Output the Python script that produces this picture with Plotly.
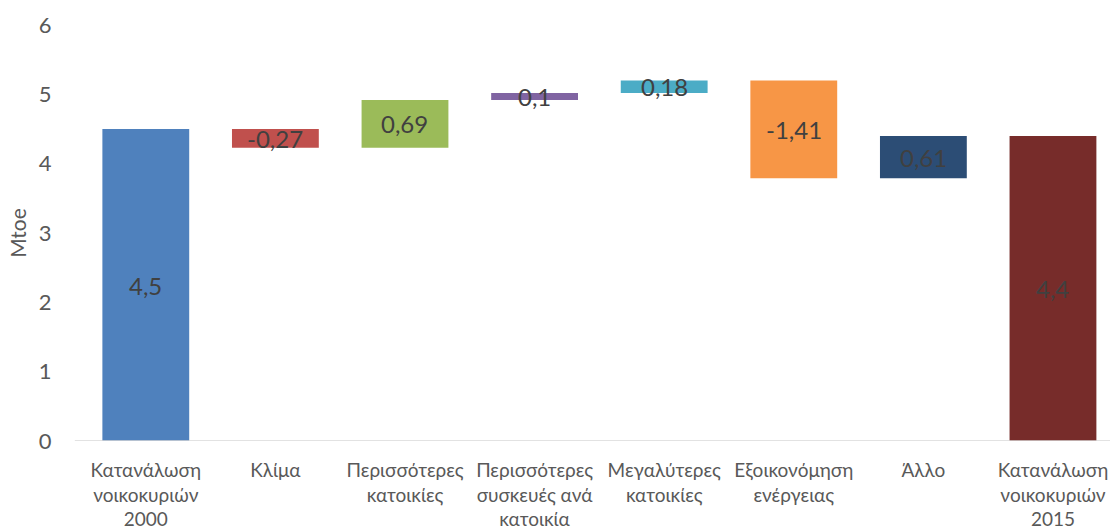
import plotly.graph_objects as go

categories = [
    "Κατανάλωση<br>νοικοκυριών<br>2000",
    "Κλίμα",
    "Περισσότερες<br>κατοικίες",
    "Περισσότερες<br>συσκευές ανά<br>κατοικία",
    "Μεγαλύτερες<br>κατοικίες",
    "Εξοικονόμηση<br>ενέργειας",
    "Άλλο",
    "Κατανάλωση<br>νοικοκυριών<br>2015",
]
start_value = 4.5
changes = [-0.27, 0.69, 0.1, 0.18, -1.41, 0.61]
end_value = 4.4
colors = ["#4F81BD", "#C0504D", "#9BBB59", "#8064A2", "#4BACC6",
          "#F79646", "#2C4D75", "#772C2A"]
y_ticks = [0, 1, 2, 3, 4, 5, 6]

# build floating bars
bases = [0.0]
heights = [start_value]
labels = [start_value]
level = start_value
for c in changes:
    new = round(level + c, 4)
    bases.append(min(level, new))
    heights.append(abs(c))
    labels.append(c)
    level = new
bases.append(0.0)
heights.append(end_value)
labels.append(end_value)

def fmt(v):
    return f"{v:g}".replace(".", ",")

FONT = "Lato, Open Sans, sans-serif"

fig = go.Figure()
fig.add_trace(go.Bar(
    x=list(range(len(categories))),
    y=heights,
    base=bases,
    marker=dict(color=colors, line=dict(width=0)),
    width=0.67,
    hoverinfo="skip",
))

for i, (b, h, v) in enumerate(zip(bases, heights, labels)):
    fig.add_annotation(
        x=i, y=b + h / 2, xref="x", yref="y",
        text=fmt(v), showarrow=False,
        font=dict(family=FONT, size=24, color="#404040"),
        xanchor="center", yanchor="middle",
    )

fig.add_shape(type="line", xref="paper", yref="y",
              x0=-0.006, x1=1.0, y0=0, y1=0,
              line=dict(color="#D9D9D9", width=1.5))

fig.update_layout(
    width=1110, height=530,
    margin=dict(l=81, r=0, t=25, b=89),
    plot_bgcolor="white", paper_bgcolor="white",
    showlegend=False,
    font=dict(family=FONT, color="#595959"),
    xaxis=dict(
        tickmode="array",
        tickvals=list(range(len(categories))),
        ticktext=categories,
        range=[-0.5, 7.44],
        automargin=False,
        showgrid=False, zeroline=False, showline=False,
        tickfont=dict(size=19, color="#595959"),
        ticks="outside", ticklen=12, tickcolor="rgba(0,0,0,0)",
    ),
    yaxis=dict(
        range=[0, 6],
        tickvals=y_ticks,
        automargin=False,
        showgrid=False, zeroline=False, showline=False,
        tickfont=dict(size=22, color="#595959"),
        ticks="outside", ticklen=24, tickcolor="rgba(0,0,0,0)",
        title=dict(text="Mtoe", font=dict(size=21, color="#595959"), standoff=6),
    ),
)

fig.write_html("out.html", config={"displayModeBar": False},
               post_script="document.body.style.margin='0';")
